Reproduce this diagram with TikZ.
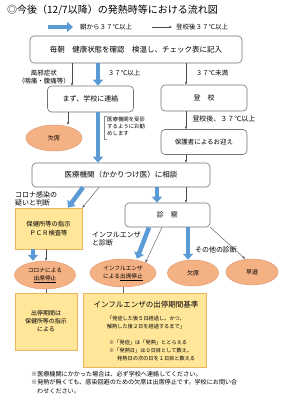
\documentclass[tikz,border=0pt]{standalone}
\usepackage{fontspec}
\setmainfont{Noto Sans CJK JP}
\usetikzlibrary{arrows.meta,shapes.geometric}
\definecolor{bl}{HTML}{5B9BD5}
\definecolor{sal}{HTML}{F4B183}
\definecolor{saldr}{HTML}{E59A70}
\definecolor{yel}{HTML}{FFE699}
\definecolor{yeldr}{HTML}{EDB45C}
\newcommand{\myfs}[1]{\fontsize{#1}{#1}\selectfont}
\begin{document}
\begin{tikzpicture}[x=1pt,y=-1pt,
 rbox/.style={draw=black!55, rounded corners=4pt, fill=white, line width=0.6pt, inner sep=0pt},
 ybox/.style={draw=yeldr, fill=yel, line width=0.6pt, inner sep=0pt},
 ell/.style={ellipse, draw=saldr, fill=sal, line width=0.5pt, inner sep=0pt, align=center},
 bigarr/.style={draw=bl, line width=4.5pt, -{Triangle[width=10pt,length=6pt]}},
 thinarr/.style={draw=black!70, line width=0.4pt, -{Stealth[length=3pt,width=2.4pt]}},
 thinln/.style={draw=black!60, line width=0.4pt},
 lbl/.style={inner sep=0pt, align=center}
]
\useasboundingbox (0,0) rectangle (287,400);

% title and legend
\node[lbl, anchor=west, font=\myfs{10}] (title) at (7,10) {◎今後（12/7以降）の発熱時等における流れ図};
\coordinate (la1) at (48,27); \coordinate (la2) at (73,27);
\draw[bigarr, line width=3.5pt] (la1) -- (la2);
\node[lbl, anchor=west, font=\myfs{6.5}] (lt1) at (80,27) {朝から３７℃以上};
\coordinate (lb1) at (152,27); \coordinate (lb2) at (172,27);
\draw[thinarr] (lb1) -- (lb2);
\node[lbl, anchor=west, font=\myfs{6.5}] (lt2) at (176,27) {登校後３７℃以上};

% columns
\coordinate (xA) at (72,0);
\coordinate (xB) at (98,0);
\coordinate (xC) at (186,0);
\coordinate (xD) at (68,0);
\coordinate (xE) at (157,0);
\coordinate (xF) at (188,0);
\coordinate (xG) at (33,0);
\coordinate (xH) at (46,0);
\coordinate (xI) at (123,0);

% nodes
\node[rbox, minimum width=212pt, minimum height=27pt, font=\myfs{7.5}] (b1) at (136,49.5) {毎朝　健康状態を確認　検温し、チェック表に記入};
\node[rbox, minimum width=86pt, minimum height=26pt, font=\myfs{7}] (maz) at (90.5,99) {まず、学校に連絡};
\node[rbox, minimum width=86pt, minimum height=26pt, font=\myfs{7}] (tok) at (204,98) {登　校};
\node[rbox, minimum width=86pt, minimum height=25pt, font=\myfs{6.5}] (hogo) at (204,142) {保護者によるお迎え};
\node[ell, minimum width=56pt, minimum height=26pt, font=\myfs{6}] (kes1) at (54,138) {欠席};
\node[rbox, minimum width=178pt, minimum height=24pt, font=\myfs{7.5}] (iryo) at (121,175) {医療機関（かかりつけ医）に相談};
\node[ybox, minimum width=67pt, minimum height=41pt, font=\fontsize{6.3}{8.5}\selectfont, align=center] (pcr) at (48.5,228.5) {保健所等の指示\\ＰＣＲ検査等};
\node[rbox, minimum width=85pt, minimum height=24pt, font=\myfs{7}] (shin) at (167.5,215) {診　察};
\node[ell, minimum width=61pt, minimum height=28pt, font=\fontsize{5.7}{8}\selectfont] (corona) at (45,275) {コロナによる\\\underline{出席停止}};
\node[ell, minimum width=66pt, minimum height=28pt, font=\fontsize{5.7}{8}\selectfont] (infl) at (123,273) {インフルエンザ\\による\underline{出席停止}};
\node[ell, minimum width=51pt, minimum height=26pt, font=\myfs{6}] (kes2) at (193,273) {欠席};
\node[ell, minimum width=52pt, minimum height=26pt, font=\myfs{6}] (sotai) at (252,272) {早退};
\node[ybox, minimum width=62pt, minimum height=57pt, font=\fontsize{6}{8}\selectfont, align=center] (cbox) at (46,321.5) {出停期間は\\保健所等の指示\\による};
\node[ybox, minimum width=123pt, minimum height=74pt] (ibox) at (144.5,330) {};
\node[lbl, font=\myfs{7.5}] (ititle) at (146,305) {インフルエンザの出停期間基準};
\node[lbl, font=\fontsize{5.2}{7.2}\selectfont] (irule) at (146,322.5) {「発症した後５日経過し、かつ、\\解熱した後２日を経過するまで」};
\node[lbl, anchor=west, font=\myfs{5.2}] (inote1) at (109,343) {※「発症」は「発熱」ととらえる};
\node[lbl, anchor=west, font=\myfs{5.2}] (inote2) at (109,351) {※「発熱日」は０日目として数え、};
\node[lbl, anchor=west, font=\myfs{5.2}] (inote3) at (117,358.5) {発熱日の次の日を１日目と数える};

% labels
\node[lbl, font=\fontsize{6.5}{8}\selectfont] (kaze) at (44,77) {風邪症状\\（咽痛・腹痛等）};
\node[lbl, font=\myfs{6.5}] (t37a) at (124,73) {３７℃以上};
\node[lbl, font=\myfs{6.5}] (t37b) at (212,73) {３７℃未満};
\node[lbl, anchor=north west, align=left, font=\fontsize{5.4}{7}\selectfont] (note) at (107,116.5) {医療機関を受診\\するようにお勧\\めします};
\draw[black!45, line width=0.4pt] (106.5,116) -- (104,116) -- (104,139) -- (106.5,139);
\node[lbl, font=\myfs{7}] (tokugo) at (224,119) {登校後、３７℃以上};
\node[lbl, anchor=west, align=left, font=\fontsize{7}{8}\selectfont] (cor) at (15,199) {コロナ感染の\\疑いと判断};
\node[lbl, anchor=west, align=left, font=\fontsize{7}{8}\selectfont] (inf) at (92,239) {インフルエンザ\\と診断};
\node[lbl, font=\myfs{7}] (other) at (216,250) {その他の診断};

% connectors
\draw[thinarr] (b1.south -| xA) -- (maz.north -| xA);
\draw[bigarr] (b1.south -| xB) -- (maz.north -| xB);
\draw[thinarr] (b1.south -| xC) -- (tok.north -| xC);
\draw[thinarr] (tok.south -| xC) -- (hogo.north -| xC);
\draw[thinarr] (hogo.south -| xC) -- (iryo.north -| xC);
\draw[thinarr] (maz.south -| xD) -- (kes1.north -| xD);
\draw[bigarr] (maz.south -| xB) -- (iryo.north -| xB);
\draw[bigarr] ([xshift=-38pt]iryo.south) -- ([xshift=19.5pt]pcr.north);
\draw[thinarr] ([xshift=-22pt]iryo.south) -- (pcr.north east);
\draw[bigarr] (iryo.south -| xE) -- (shin.north -| xE);
\draw[thinarr] (iryo.south -| xC) -- (shin.north -| xC);
\draw[bigarr] ([xshift=-18.5pt]shin.south) -- ([xshift=14pt]infl.north);
\draw[thinarr] ([xshift=-5.5pt]shin.south) -- (infl.25);
\draw[bigarr] (shin.south -| xF) -- (kes2.north -| xF);
\draw[thinarr] (shin.south east) -- ([xshift=-7pt]sotai.north);
\draw[bigarr] (pcr.south -| xG) -- (corona.north -| xG);
\draw[thinarr] (pcr.south -| xH) -- (corona.north -| xH);
\draw[thinln] (corona.south -| xH) -- (cbox.north -| xH);
\draw[thinln] (infl.south -| xI) -- (ibox.north -| xI);

% footnotes
\node[lbl, anchor=west, font=\myfs{6.1}] (fn1) at (31,374) {※医療機関にかかった場合は、必ず学校へ連絡してください。};
\node[lbl, anchor=west, font=\myfs{6.1}] (fn2) at (31,382.5) {※発熱が無くても、感染回避のための欠席は出席停止です。学校にお問い合};
\node[lbl, anchor=west, font=\myfs{6.1}] (fn3) at (37,391) {わせください。};
\end{tikzpicture}
\end{document}
